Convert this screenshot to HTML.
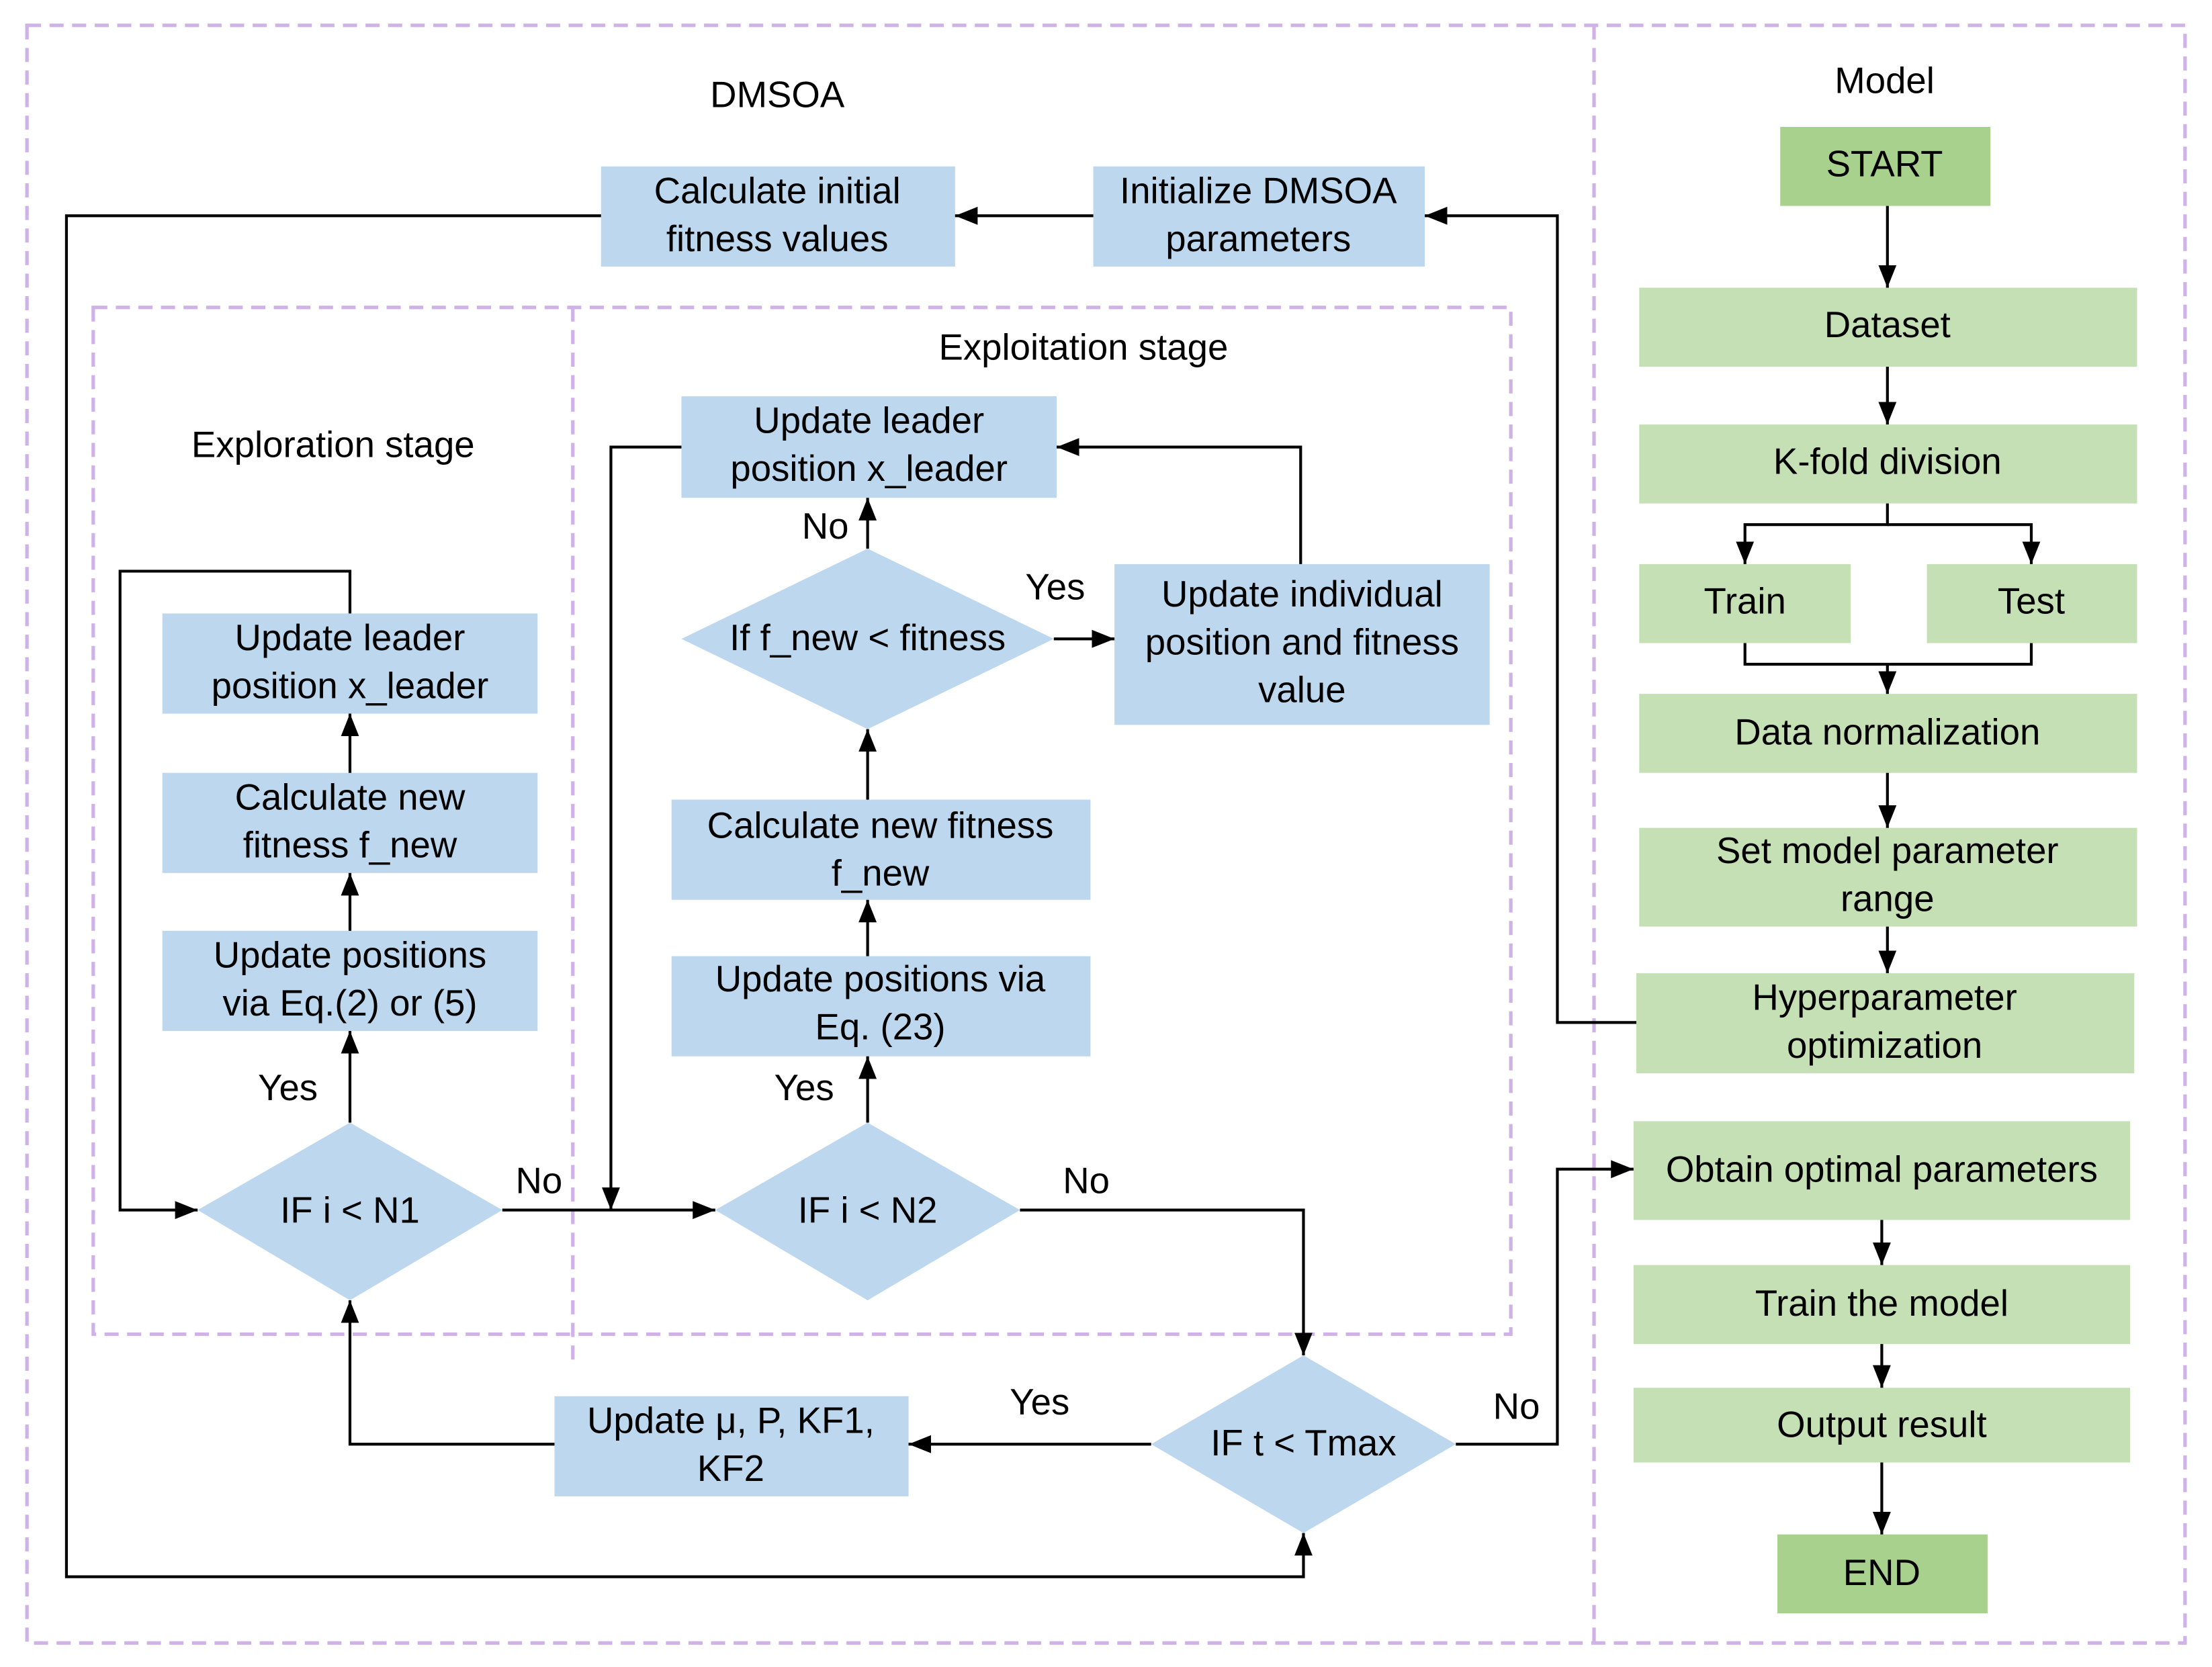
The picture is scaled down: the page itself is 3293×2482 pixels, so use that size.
<!DOCTYPE html>
<html><head><meta charset="utf-8"><style>html,body{margin:0;padding:0;background:#fff}svg{display:block}</style></head><body>
<svg width="3293" height="2482" viewBox="0 0 1568 1182" xmlns="http://www.w3.org/2000/svg" font-family="Liberation Sans, Arial, sans-serif" font-size="26" fill="#000">
<defs><marker id="b" viewBox="0 0 10 10" refX="10" refY="5" markerWidth="16" markerHeight="16" orient="auto" markerUnits="userSpaceOnUse"><path d="M0,1L10,5L0,9z" fill="#000"/></marker></defs>
<g fill="none" stroke="#cfb3e6" stroke-width="2.5" stroke-dasharray="10,6">
<rect x="19" y="18" width="1530" height="1147"/>
<line x1="1130" y1="18" x2="1130" y2="1165"/>
<rect x="66" y="218" width="1005" height="728"/>
<line x1="406" y1="218" x2="406" y2="965"/>
</g>
<g fill="#bdd7ee">
<rect x="426" y="118" width="251" height="71"/>
<rect x="775" y="118" width="235" height="71"/>
<rect x="483" y="281" width="266" height="72"/>
<rect x="790" y="400" width="266" height="114"/>
<rect x="115" y="435" width="266" height="71"/>
<rect x="115" y="548" width="266" height="71"/>
<rect x="115" y="660" width="266" height="71"/>
<rect x="476" y="567" width="297" height="71"/>
<rect x="476" y="678" width="297" height="71"/>
<rect x="393" y="990" width="251" height="71"/>
<polygon points="483,453 615,389 747,453 615,517"/>
<polygon points="140,858 248,796 356,858 248,922"/>
<polygon points="507,858 615,796 723,858 615,922"/>
<polygon points="816,1024 924,961 1032,1024 924,1087"/>
</g>
<g fill="#c5e0b4">
<rect x="1162" y="204" width="353" height="56"/>
<rect x="1162" y="301" width="353" height="56"/>
<rect x="1162" y="400" width="150" height="56"/>
<rect x="1366" y="400" width="149" height="56"/>
<rect x="1162" y="492" width="353" height="56"/>
<rect x="1162" y="587" width="353" height="70"/>
<rect x="1160" y="690" width="353" height="71"/>
<rect x="1158" y="795" width="352" height="70"/>
<rect x="1158" y="897" width="352" height="56"/>
<rect x="1158" y="984" width="352" height="53"/>
</g>
<g fill="#a9d18e"><rect x="1262" y="90" width="149" height="56"/><rect x="1260" y="1088" width="149" height="56"/></g>
<g fill="none" stroke="#000" stroke-width="2" marker-end="url(#b)">
<line x1="1338" y1="146" x2="1338" y2="204"/>
<line x1="1338" y1="260" x2="1338" y2="301"/>
<polyline points="1338,357 1338,372 1237,372 1237,400"/>
<polyline points="1338,372 1440,372 1440,400"/>
<polyline points="1237,456 1237,471 1440,471 1440,456" marker-end="none"/>
<line x1="1338" y1="471" x2="1338" y2="492"/>
<line x1="1338" y1="548" x2="1338" y2="587"/>
<line x1="1338" y1="657" x2="1338" y2="690"/>
<line x1="1334" y1="865" x2="1334" y2="897"/>
<line x1="1334" y1="953" x2="1334" y2="984"/>
<line x1="1334" y1="1037" x2="1334" y2="1088"/>
<polyline points="1160,725 1104,725 1104,153 1010,153"/>
<line x1="775" y1="153" x2="677" y2="153"/>
<polyline points="426,153 47,153 47,1118 924,1118 924,1087"/>
<polyline points="248,796 248,731"/>
<line x1="248" y1="660" x2="248" y2="619"/>
<line x1="248" y1="548" x2="248" y2="506"/>
<polyline points="248,435 248,405 85,405 85,858 140,858"/>
<line x1="356" y1="858" x2="507" y2="858"/>
<polyline points="483,317 433,317 433,858"/>
<line x1="615" y1="796" x2="615" y2="749"/>
<line x1="615" y1="678" x2="615" y2="638"/>
<line x1="615" y1="567" x2="615" y2="517"/>
<line x1="615" y1="389" x2="615" y2="353"/>
<line x1="747" y1="453" x2="790" y2="453"/>
<polyline points="922,400 922,317 749,317"/>
<polyline points="723,858 924,858 924,961"/>
<line x1="816" y1="1024" x2="644" y2="1024"/>
<polyline points="393,1024 248,1024 248,922"/>
<polyline points="1032,1024 1104,1024 1104,829 1158,829"/>
</g>
<g text-anchor="middle">
<text x="551" y="76">DMSOA</text><text x="1336" y="66">Model</text>
<text x="768" y="255">Exploitation stage</text><text x="236" y="324">Exploration stage</text>
<text x="551" y="144">Calculate initial</text><text x="551" y="178">fitness values</text>
<text x="892" y="144">Initialize DMSOA</text><text x="892" y="178">parameters</text>
<text x="616" y="307">Update leader</text><text x="616" y="341">position x_leader</text>
<text x="923" y="430">Update individual</text><text x="923" y="464">position and fitness</text><text x="923" y="498">value</text>
<text x="615" y="461">If f_new &lt; fitness</text>
<text x="248" y="461">Update leader</text><text x="248" y="495">position x_leader</text>
<text x="248" y="574">Calculate new</text><text x="248" y="608">fitness f_new</text>
<text x="248" y="686">Update positions</text><text x="248" y="720">via Eq.(2) or (5)</text>
<text x="624" y="594">Calculate new fitness</text><text x="624" y="628">f_new</text>
<text x="624" y="703">Update positions via</text><text x="624" y="737">Eq. (23)</text>
<text x="248" y="867">IF i &lt; N1</text><text x="615" y="867">IF i &lt; N2</text><text x="924" y="1032">IF t &lt; Tmax</text>
<text x="518" y="1016">Update μ, P, KF1,</text><text x="518" y="1050">KF2</text>
<text x="1336" y="125">START</text><text x="1338" y="239">Dataset</text><text x="1338" y="336">K-fold division</text>
<text x="1237" y="435">Train</text><text x="1440" y="435">Test</text>
<text x="1338" y="528">Data normalization</text>
<text x="1338" y="612">Set model parameter</text><text x="1338" y="646">range</text>
<text x="1336" y="716">Hyperparameter</text><text x="1336" y="750">optimization</text>
<text x="1334" y="838">Obtain optimal parameters</text>
<text x="1334" y="933">Train the model</text><text x="1334" y="1019">Output result</text>
<text x="1334" y="1124">END</text>
<text x="585" y="382">No</text><text x="748" y="425">Yes</text>
<text x="204" y="780">Yes</text><text x="570" y="780">Yes</text>
<text x="382" y="846">No</text><text x="770" y="846">No</text>
<text x="737" y="1003">Yes</text><text x="1075" y="1006">No</text>
</g>
</svg>
</body></html>
